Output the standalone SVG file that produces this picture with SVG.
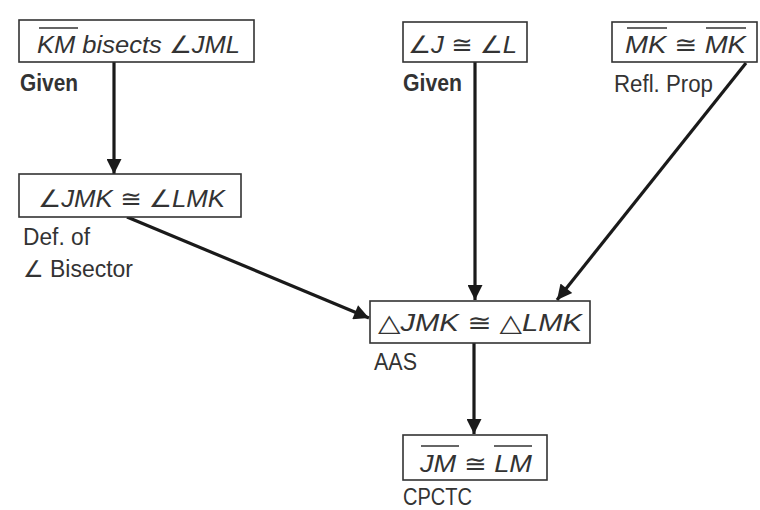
<svg xmlns="http://www.w3.org/2000/svg" width="760" height="510" viewBox="0 0 760 510">
  <style>
    .box { fill: #ffffff; stroke: #333333; stroke-width: 1.6; }
    .stmt { font-family: "Liberation Sans", "DejaVu Sans", sans-serif; font-style: italic; font-size: 24px; fill: #333333; }
    .bar { stroke: #333333; stroke-width: 1.5; }
    .why { font-family: "Liberation Sans", "DejaVu Sans", sans-serif; font-size: 23px; fill: #333333; }
    .whyb { font-family: "Liberation Sans", "DejaVu Sans", sans-serif; font-size: 23px; font-weight: bold; fill: #333333; }
    .edge { stroke: #1a1a1a; stroke-width: 3.2; fill: none; marker-end: url(#head); }
  </style>
  <defs>
    <marker id="head" viewBox="0 0 10 10" refX="10" refY="5" markerUnits="userSpaceOnUse" markerWidth="17" markerHeight="15" orient="auto">
      <path d="M0,0 L10,5 L0,10 Z" fill="#1a1a1a"/>
    </marker>
  </defs>

  <g id="connectors">
    <line class="edge" x1="114" y1="62" x2="114" y2="174"/>
    <line class="edge" x1="127" y1="217" x2="369" y2="318"/>
    <line class="edge" x1="475" y1="62" x2="475" y2="300"/>
    <line class="edge" x1="746" y1="63" x2="557" y2="300"/>
    <line class="edge" x1="474" y1="343" x2="474" y2="434"/>
  </g>

  <g id="km-bisects">
    <rect class="box" x="19" y="20" width="235" height="42"/>
    <text class="stmt" x="37" y="53" textLength="203" lengthAdjust="spacingAndGlyphs">KM bisects ∠JML</text>
    <line class="bar" x1="39" y1="28" x2="78" y2="28"/>
    <text class="whyb" x="20" y="91" textLength="58" lengthAdjust="spacingAndGlyphs">Given</text>
  </g>

  <g id="angles-jl">
    <rect class="box" x="403" y="22" width="124" height="40"/>
    <text class="stmt" x="408" y="53" textLength="109" lengthAdjust="spacingAndGlyphs">∠J ≅ ∠L</text>
    <text class="whyb" x="403" y="91" textLength="59" lengthAdjust="spacingAndGlyphs">Given</text>
  </g>

  <g id="mk-refl">
    <rect class="box" x="612" y="22" width="145" height="40"/>
    <text class="stmt" x="625" y="53" textLength="121" lengthAdjust="spacingAndGlyphs">MK ≅ MK</text>
    <line class="bar" x1="627" y1="28" x2="667" y2="28"/>
    <line class="bar" x1="706" y1="28" x2="746" y2="28"/>
    <text class="why" x="614" y="92" textLength="99" lengthAdjust="spacingAndGlyphs">Refl. Prop</text>
  </g>

  <g id="angles-jmk-lmk">
    <rect class="box" x="19" y="174" width="222" height="43"/>
    <text class="stmt" x="38" y="207" textLength="187" lengthAdjust="spacingAndGlyphs">∠JMK ≅ ∠LMK</text>
    <text class="why" x="23" y="245" textLength="67" lengthAdjust="spacingAndGlyphs">Def. of</text>
    <text class="why" x="23" y="277" textLength="110" lengthAdjust="spacingAndGlyphs">∠ Bisector</text>
  </g>

  <g id="triangles">
    <rect class="box" x="370" y="301" width="220" height="42"/>
    <text class="stmt" x="378" y="331" textLength="204" lengthAdjust="spacingAndGlyphs">△JMK ≅ △LMK</text>
    <text class="why" x="374" y="370" textLength="43" lengthAdjust="spacingAndGlyphs">AAS</text>
  </g>

  <g id="jm-lm">
    <rect class="box" x="403" y="435" width="144" height="45"/>
    <text class="stmt" x="420" y="472" textLength="112" lengthAdjust="spacingAndGlyphs">JM ≅ LM</text>
    <line class="bar" x1="421" y1="446" x2="459" y2="446"/>
    <line class="bar" x1="494" y1="446" x2="532" y2="446"/>
    <text class="why" x="403" y="505" font-size="21" textLength="69" lengthAdjust="spacingAndGlyphs">CPCTC</text>
  </g>
</svg>
